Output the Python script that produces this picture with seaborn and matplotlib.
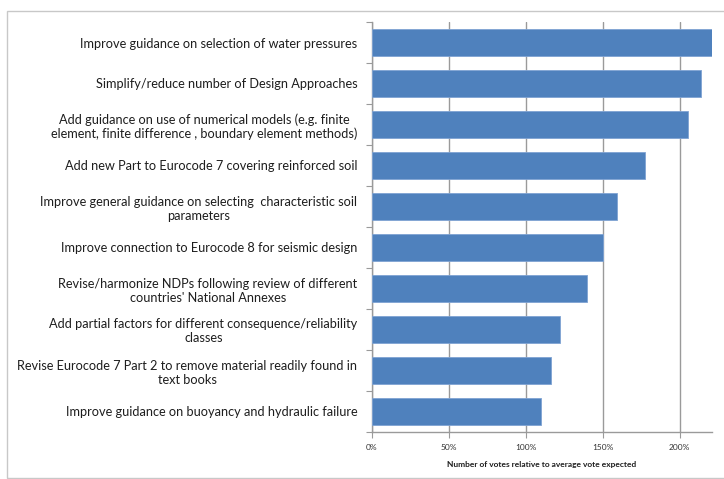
import matplotlib
matplotlib.use("Agg")
import matplotlib.pyplot as plt
from matplotlib.patches import Rectangle
from matplotlib.ticker import FuncFormatter, FixedLocator
import seaborn as sns
import pandas as pd

# Proposed improvements, ranked by votes
categories = [
    "Improve guidance on selection of water pressures",
    "Simplify/reduce number of Design Approaches",
    "Add guidance on use of numerical models (e.g. finite\nelement, finite difference , boundary element methods)",
    "Add new Part to Eurocode 7 covering reinforced soil",
    "Improve general guidance on selecting  characteristic soil\nparameters",
    "Improve connection to Eurocode 8 for seismic design",
    "Revise/harmonize NDPs following review of different\ncountries' National Annexes",
    "Add partial factors for different consequence/reliability\nclasses",
    "Revise Eurocode 7 Part 2 to remove material readily found in\ntext books",
    "Improve guidance on buoyancy and hydraulic failure",
]
# Votes relative to the average expected vote (1.0 = 100%)
relative_votes = [2.21, 2.14, 2.055, 1.773, 1.59, 1.502, 1.398, 1.224, 1.161, 1.096]
x_ticks = [0.0, 0.5, 1.0, 1.5, 2.0]
x_label = "Number of votes relative to average vote expected"

df = pd.DataFrame({"proposal": categories, "ratio": relative_votes})

sns.set_theme(style="white")
plt.rcParams["font.family"] = ["Lato", "DejaVu Sans"]

W, H = 724, 479
fig = plt.figure(figsize=(W / 100, H / 100), dpi=100)
fig.patch.set_facecolor("white")

# chart frame (open on the right side)
fig.patches.append(Rectangle((7 / W, 1 - 478 / H), 740 / W, 467 / H,
                             transform=fig.transFigure, fill=False,
                             edgecolor="#C8C8C8", linewidth=1.0))

ax = fig.add_axes([372 / W, (H - 432) / H, 340 / W, 410 / H])
sns.barplot(data=df, x="ratio", y="proposal", orient="h", ax=ax,
            color="#4F81BD", saturation=1, width=0.645,
            edgecolor="#7FA3D3", linewidth=0.6, zorder=3)

ax.set_xlim(0, 2.21)
ax.set_ylim(len(categories) - 0.5, -0.5)
ax.set_xticks(x_ticks)
ax.xaxis.set_major_formatter(FuncFormatter(lambda v, _: f"{v * 100:.0f}%"))
ax.grid(axis="x", color="#9A9A9A", linewidth=1.0, zorder=0)
ax.grid(axis="y", visible=False)

for side in ("top", "right"):
    ax.spines[side].set_visible(False)
for side in ("left", "bottom"):
    ax.spines[side].set_color("#9A9A9A")
    ax.spines[side].set_linewidth(1.0)

ax.tick_params(axis="x", which="major", bottom=True, length=4, width=0.8,
               color="#9A9A9A", labelsize=6, labelcolor="#333333", pad=5)
ax.tick_params(axis="y", which="major", left=False, length=0, labelsize=9.2,
               labelcolor="#1E1E1E", pad=10.5)
ax.yaxis.set_minor_locator(FixedLocator([i - 0.5 for i in range(len(categories) + 1)]))
ax.tick_params(axis="y", which="minor", left=True, length=4, width=0.8,
               color="#9A9A9A")
for lbl in ax.get_yticklabels():
    lbl.set_multialignment("center")

ax.set_ylabel("")
ax.set_xlabel(x_label, fontsize=6, fontweight="bold", color="#1E1E1E", labelpad=7)

fig.savefig("out.png", dpi=100, facecolor="white")
